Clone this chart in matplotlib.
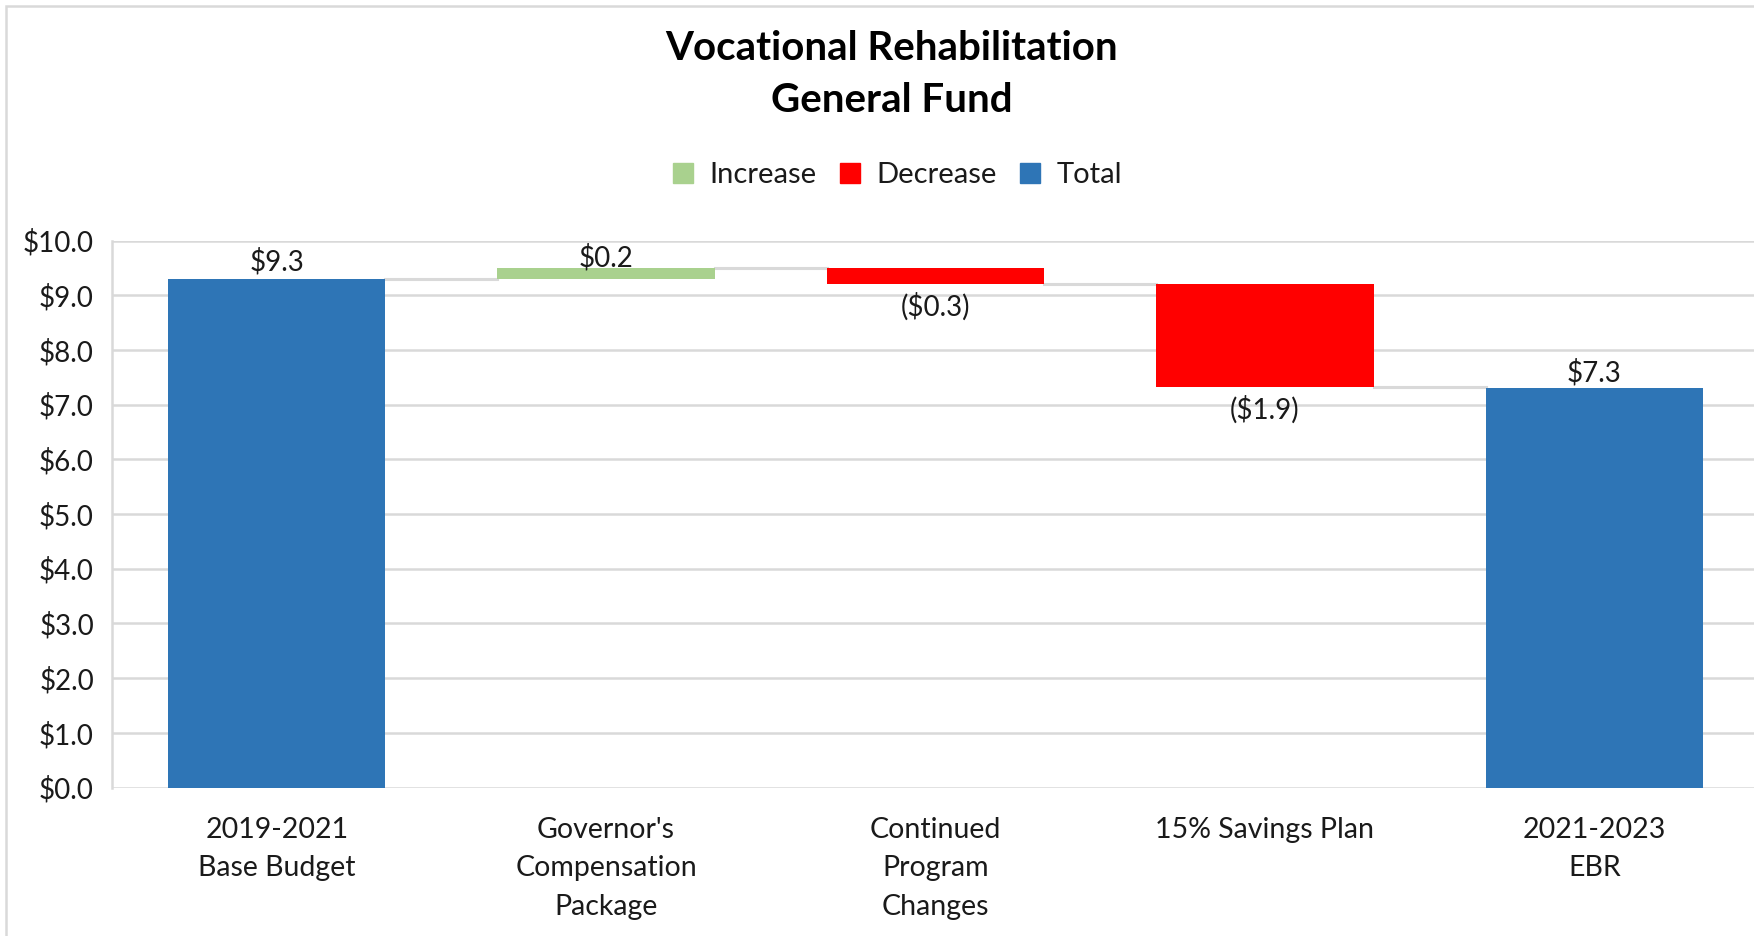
import numpy as np
import matplotlib.pyplot as plt
from matplotlib.patches import Patch, Rectangle

# values ($ millions)
categories = ["2019-2021\nBase Budget", "Governor's\nCompensation\nPackage",
              "Continued\nProgram\nChanges", "15% Savings Plan", "2021-2023\nEBR"]
start_total = 9.29
changes = [0.20, -0.28, -1.89]
end_total = 7.31
y_ticks = np.arange(0, 11, 1)

blue = '#2E75B6'
green = '#A9D18E'
red = '#FF0000'
grid_col = '#D9D9D9'
text_col = '#1a1a1a'

plt.rcParams['font.family'] = ['Lato', 'DejaVu Sans']

fig = plt.figure(figsize=(17.54, 9.36), dpi=100)
ax = fig.add_axes([112 / 1754, 1 - 787.5 / 936, 1647 / 1754, 547 / 936])

width = 0.66
x = np.arange(len(categories))

# cumulative levels
levels = [start_total]
for c in changes:
    levels.append(levels[-1] + c)

ax.bar(x[0], start_total, width, color=blue, zorder=3)
for i, c in enumerate(changes):
    lo = min(levels[i], levels[i + 1])
    ax.bar(x[i + 1], abs(c), width, bottom=lo, color=green if c > 0 else red, zorder=3)
ax.bar(x[-1], end_total, width, color=blue, zorder=3)

# connector lines
conn = [start_total] + levels[1:]
for i in range(len(categories) - 1):
    ax.plot([x[i] + width / 2, x[i + 1] - width / 2], [conn[i], conn[i]],
            color=grid_col, lw=2.2, zorder=2)

# data labels
def fmt(v):
    return "${:.1f}".format(v) if v >= 0 else "(${:.1f})".format(-v)

lab_kw = dict(ha='center', fontsize=20, color=text_col, zorder=4)
ax.annotate(fmt(start_total), (x[0], start_total), xytext=(0, 3),
            textcoords='offset points', va='bottom', **lab_kw)
for i, c in enumerate(changes):
    if c > 0:
        ax.annotate(fmt(c), (x[i + 1], levels[i + 1]), xytext=(0, -2),
                    textcoords='offset points', va='bottom', **lab_kw)
    else:
        ax.annotate(fmt(c), (x[i + 1], levels[i + 1]), xytext=(0, -6),
                    textcoords='offset points', va='top', **lab_kw)
ax.annotate(fmt(end_total), (x[-1], end_total), xytext=(0, 1),
            textcoords='offset points', va='bottom', **lab_kw)

ax.set_xlim(-0.5, 4.5)
ax.set_ylim(0, 10)
ax.set_yticks(y_ticks)
ax.set_yticklabels(["${:.1f}".format(v) for v in y_ticks], fontsize=20, color=text_col)
ax.set_xticks(x)
ax.set_xticklabels(categories, fontsize=20.5, color=text_col, linespacing=1.6, va='top')
ax.tick_params(length=0, pad=13)
ax.tick_params(axis='x', pad=21)
ax.grid(axis='y', color=grid_col, lw=1.8, zorder=0)
for s in ['top', 'right', 'bottom']:
    ax.spines[s].set_visible(False)
ax.spines['left'].set_color(grid_col)
ax.spines['left'].set_linewidth(1.8)

title_x = 797 / 1568
fig.text(title_x, 1 - 49 / 936, "Vocational Rehabilitation", ha='center', va='center',
         fontsize=29, fontweight='bold', color='black')
fig.text(title_x, 1 - 100 / 936, "General Fund", ha='center', va='center',
         fontsize=29, fontweight='bold', color='black')

handles = [Patch(color=green, label='Increase'), Patch(color=red, label='Decrease'),
           Patch(color=blue, label='Total')]
fig.legend(handles=handles, loc='center', bbox_to_anchor=(802 / 1568, 1 - 175 / 936), ncol=3,
           frameon=False, fontsize=21, handlelength=0.7, handleheight=0.7,
           handletextpad=0.55, columnspacing=0.8, labelcolor=text_col)

# outer chart frame
fig.patches.append(Rectangle((6 / 1754, -0.01), 1.0, 1 - 6 / 936 + 0.01, transform=fig.transFigure,
                             fill=False, edgecolor=grid_col, lw=1.8))

fig.savefig('out.png', dpi=100)
